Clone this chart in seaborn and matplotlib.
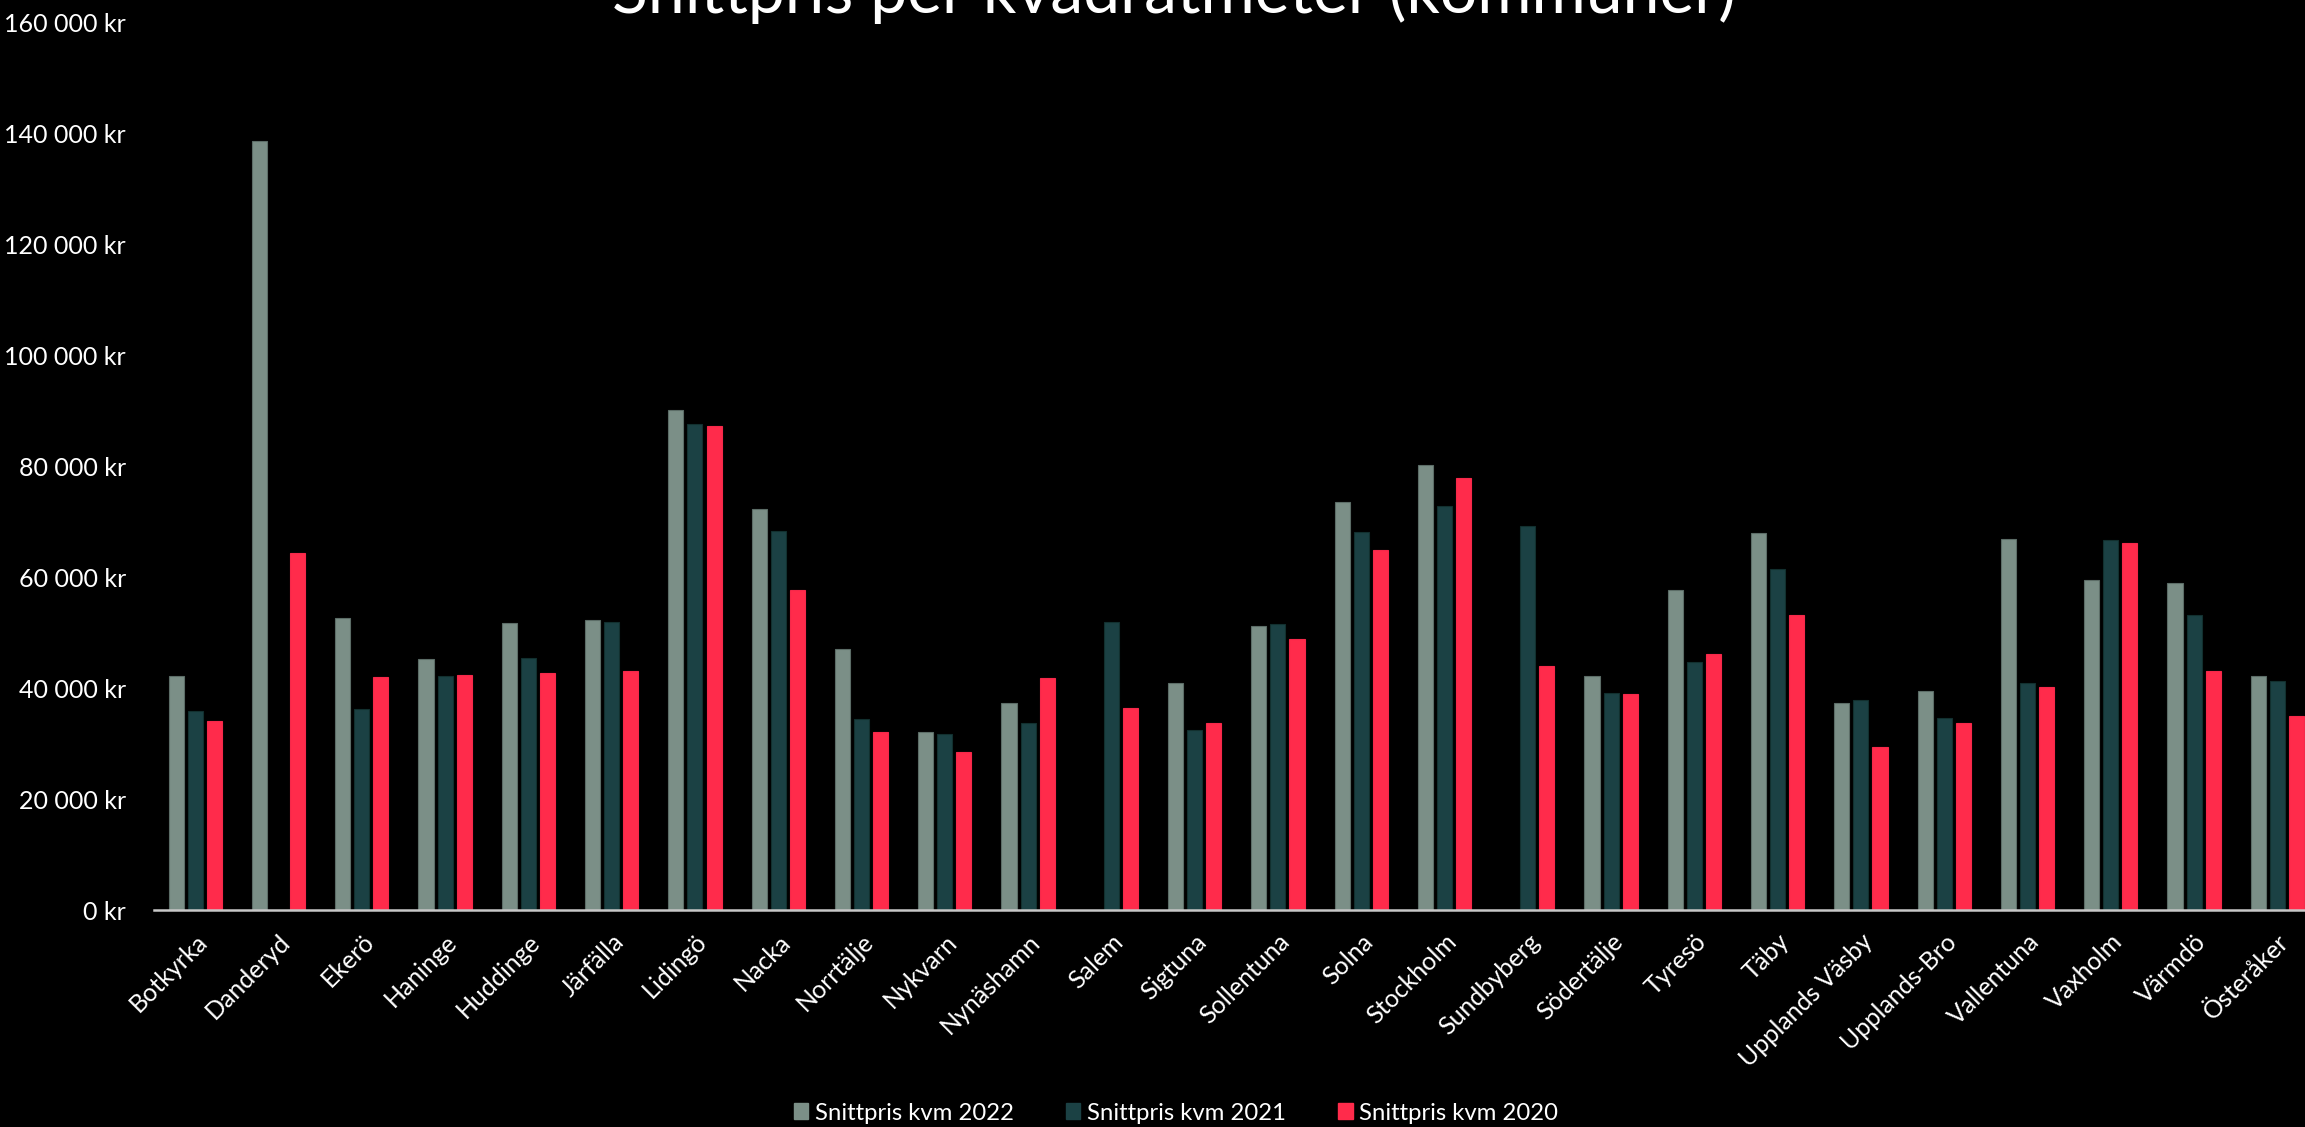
import pandas as pd
import numpy as np
import seaborn as sns
import matplotlib
matplotlib.use("Agg")
import matplotlib.pyplot as plt
from matplotlib.patches import Patch
from matplotlib.ticker import FuncFormatter, MultipleLocator

kommuner = ["Botkyrka", "Danderyd", "Ekerö", "Haninge", "Huddinge", "Järfälla",
            "Lidingö", "Nacka", "Norrtälje", "Nykvarn", "Nynäshamn", "Salem",
            "Sigtuna", "Sollentuna", "Solna", "Stockholm", "Sundbyberg",
            "Södertälje", "Tyresö", "Täby", "Upplands Väsby", "Upplands-Bro",
            "Vallentuna", "Vaxholm", "Värmdö", "Österåker"]

pris_2022 = [42200, 138600, 52700, 45200, 51800, 52300, 90200, 72300, 47100,
             32200, 37400, np.nan, 41000, 51300, 73600, 80300, np.nan, 42200,
             57700, 68000, 37400, 39600, 66850, 59500, 58900, 42200]
pris_2021 = [35900, np.nan, 36200, 42200, 45400, 52000, 87600, 68300, 34400,
             31700, 33800, 51900, 32500, 51600, 68200, 72900, 69300, 39200,
             44800, 61500, 37900, 34600, 40960, 66700, 53200, 41300]
pris_2020 = [34100, 64300, 42100, 42400, 42800, 43200, 87300, 57700, 32200,
             28500, 41900, 36400, 33800, 48800, 65000, 77900, 44100, 39000,
             46100, 53200, 29400, 33700, 40200, 66100, 43100, 35000]

serier = ["Snittpris kvm 2022", "Snittpris kvm 2021", "Snittpris kvm 2020"]
farger = ["#7b8f87", "#1b4144", "#ff2b4b"]
kanter = ["#5c6d67", "#12302f", "#f5284a"]

df = pd.DataFrame({"Kommun": kommuner, serier[0]: pris_2022,
                   serier[1]: pris_2021, serier[2]: pris_2020})
df = df.melt(id_vars="Kommun", var_name="Serie", value_name="Pris").dropna()

plt.rcParams["font.family"] = ["Lato", "DejaVu Sans"]

W, H = 2305, 1127
fig = plt.figure(figsize=(W / 100, H / 100), dpi=100, facecolor="black")
ax = fig.add_axes([153.6 / W, 1 - 910.3 / H, 27 * 80.2 / W, 887.9 / H])
ax.set_facecolor("black")

sns.barplot(data=df, x="Kommun", y="Pris", hue="Serie", order=kommuner,
            hue_order=serier, palette=farger, width=0.688, gap=0.21,
            linewidth=0.8, saturation=1, legend=False, ax=ax)
for cont, kant in zip(ax.containers, kanter):
    for p in cont:
        p.set_edgecolor(kant)

ax.set_xlim(-0.5, len(kommuner) - 0.5)
ax.set_ylim(0, 160000)
ax.yaxis.set_major_locator(MultipleLocator(20000))
ax.yaxis.set_major_formatter(FuncFormatter(lambda v, _: f"{int(v):,}".replace(",", " ") + " kr"))
ax.set_xlabel("")
ax.set_ylabel("")

for s in ["top", "right", "left"]:
    ax.spines[s].set_visible(False)
ax.spines["bottom"].set_color("#c8c8c8")
ax.spines["bottom"].set_linewidth(1.8)

ax.tick_params(axis="y", length=0, pad=20, colors="white", labelsize=18)
ax.tick_params(axis="x", length=0, pad=14, colors="white", labelsize=18)
plt.setp(ax.get_xticklabels(), rotation=45, ha="right", rotation_mode="anchor")

titel = fig.text(1174 / W, 1 - 13.5 / H, "Snittpris per kvadratmeter (kommuner)",
                 ha="center", va="baseline", color="white", fontsize=40)
fig.canvas.draw()
bb = titel.get_window_extent()
titel.set_fontsize(40 * 1123 / bb.width)

handles = [Patch(facecolor=c, edgecolor=c) for c in farger]
fig.legend(handles, serier, loc="center", bbox_to_anchor=(1176 / W, 1 - 1113 / H),
           ncol=3, frameon=False, fontsize=17.2, labelcolor="white",
           handlelength=0.6, handleheight=0.6, handletextpad=0.27,
           columnspacing=2.2, borderpad=0)

fig.savefig("out.png", dpi=100, facecolor="black")
